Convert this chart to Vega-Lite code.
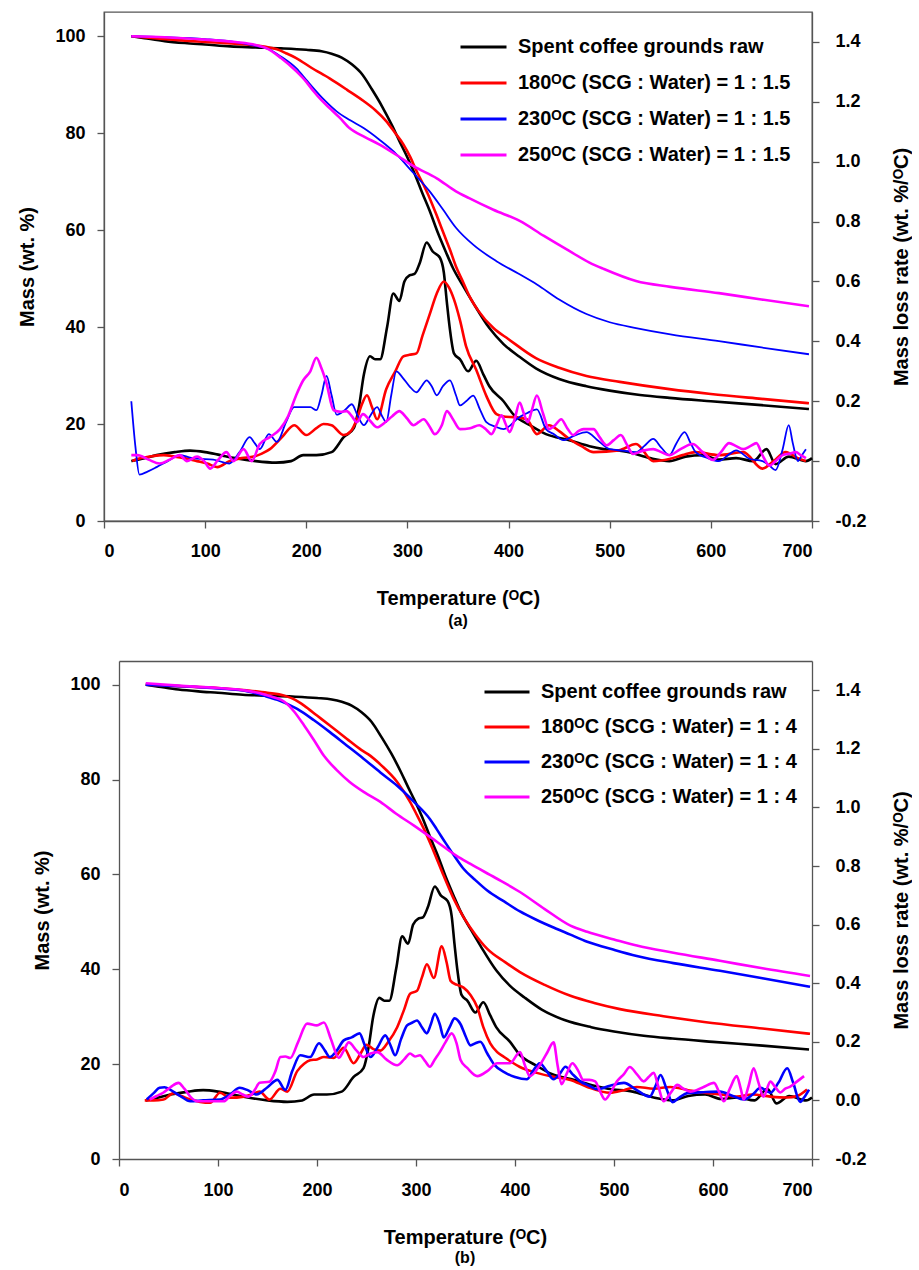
{
"$schema":"https://vega.github.io/schema/vega-lite/v6.json",
"background":"white",
"padding":{"top":11,"left":17,"right":0,"bottom":0},
"autosize":{"type":"pad"},
"spacing":31,
"columns":1,
"config":{
 "font":"Liberation Sans",
 "view":{"stroke":"#555555","strokeWidth":1.3},
 "axis":{"grid":false,"labelFont":"Liberation Sans","labelFontWeight":"bold","labelFontSize":18,"labelColor":"#000000","titleFont":"Liberation Sans","titleFontWeight":"bold","titleFontSize":20,"titleColor":"#000000","domainColor":"#555555","domainWidth":1.3,"tickColor":"#555555","tickWidth":1.3,"tickSize":7},
 "title":{"font":"Liberation Sans","fontWeight":"bold","fontSize":16,"color":"#000000"},
 "legend":{"labelFont":"Liberation Sans"}
},
"datasets":{
"raw":[
{"s":"raw","k":"m","T":27,"v":100},{"s":"raw","k":"m","T":40,"v":99.6},{"s":"raw","k":"m","T":60,"v":99},{"s":"raw","k":"m","T":80,"v":98.6},{"s":"raw","k":"m","T":100,"v":98.3},{"s":"raw","k":"m","T":125,"v":97.9},{"s":"raw","k":"m","T":150,"v":97.7},{"s":"raw","k":"m","T":175,"v":97.5},{"s":"raw","k":"m","T":200,"v":97.2},{"s":"raw","k":"m","T":215,"v":96.9},{"s":"raw","k":"m","T":225,"v":96.4},{"s":"raw","k":"m","T":235,"v":95.6},{"s":"raw","k":"m","T":245,"v":94.2},{"s":"raw","k":"m","T":255,"v":92.2},{"s":"raw","k":"m","T":265,"v":89},{"s":"raw","k":"m","T":275,"v":85.5},{"s":"raw","k":"m","T":285,"v":81.5},{"s":"raw","k":"m","T":292,"v":78.4},{"s":"raw","k":"m","T":300,"v":75},{"s":"raw","k":"m","T":306,"v":72.2},{"s":"raw","k":"m","T":315,"v":67.5},{"s":"raw","k":"m","T":322,"v":64},{"s":"raw","k":"m","T":330,"v":59.5},{"s":"raw","k":"m","T":338,"v":55.5},{"s":"raw","k":"m","T":345,"v":52.2},{"s":"raw","k":"m","T":355,"v":48.5},{"s":"raw","k":"m","T":365,"v":45},{"s":"raw","k":"m","T":381,"v":39.8},{"s":"raw","k":"m","T":395,"v":36.5},{"s":"raw","k":"m","T":410,"v":34},{"s":"raw","k":"m","T":427,"v":31.5},{"s":"raw","k":"m","T":450,"v":29.3},{"s":"raw","k":"m","T":477,"v":27.8},{"s":"raw","k":"m","T":500,"v":26.9},{"s":"raw","k":"m","T":530,"v":26},{"s":"raw","k":"m","T":559,"v":25.4},{"s":"raw","k":"m","T":600,"v":24.7},{"s":"raw","k":"m","T":650,"v":23.9},{"s":"raw","k":"m","T":697,"v":23.1},
{"s":"raw","k":"d","T":27,"v":0},{"s":"raw","k":"d","T":40,"v":0.01},{"s":"raw","k":"d","T":52,"v":0.02},{"s":"raw","k":"d","T":70,"v":0.03},{"s":"raw","k":"d","T":85,"v":0.035},{"s":"raw","k":"d","T":100,"v":0.03},{"s":"raw","k":"d","T":115,"v":0.02},{"s":"raw","k":"d","T":130,"v":0.01},{"s":"raw","k":"d","T":150,"v":0},{"s":"raw","k":"d","T":170,"v":-0.005},{"s":"raw","k":"d","T":185,"v":0},{"s":"raw","k":"d","T":197,"v":0.02},{"s":"raw","k":"d","T":210,"v":0.02},{"s":"raw","k":"d","T":225,"v":0.03},{"s":"raw","k":"d","T":237,"v":0.08},{"s":"raw","k":"d","T":247,"v":0.11},{"s":"raw","k":"d","T":252,"v":0.18},{"s":"raw","k":"d","T":257,"v":0.29},{"s":"raw","k":"d","T":263,"v":0.35},{"s":"raw","k":"d","T":268,"v":0.34},{"s":"raw","k":"d","T":273,"v":0.34},{"s":"raw","k":"d","T":280,"v":0.45},{"s":"raw","k":"d","T":286,"v":0.56},{"s":"raw","k":"d","T":292,"v":0.535},{"s":"raw","k":"d","T":297,"v":0.6},{"s":"raw","k":"d","T":302,"v":0.62},{"s":"raw","k":"d","T":307,"v":0.625},{"s":"raw","k":"d","T":312,"v":0.66},{"s":"raw","k":"d","T":319,"v":0.73},{"s":"raw","k":"d","T":325,"v":0.7},{"s":"raw","k":"d","T":332,"v":0.68},{"s":"raw","k":"d","T":336,"v":0.63},{"s":"raw","k":"d","T":339,"v":0.53},{"s":"raw","k":"d","T":342,"v":0.44},{"s":"raw","k":"d","T":346,"v":0.36},{"s":"raw","k":"d","T":352,"v":0.34},{"s":"raw","k":"d","T":360,"v":0.3},{"s":"raw","k":"d","T":368,"v":0.335},{"s":"raw","k":"d","T":375,"v":0.29},{"s":"raw","k":"d","T":381,"v":0.25},{"s":"raw","k":"d","T":395,"v":0.2},{"s":"raw","k":"d","T":405,"v":0.155},{"s":"raw","k":"d","T":421,"v":0.12},{"s":"raw","k":"d","T":437,"v":0.09},{"s":"raw","k":"d","T":460,"v":0.07},{"s":"raw","k":"d","T":480,"v":0.05},{"s":"raw","k":"d","T":494,"v":0.04},{"s":"raw","k":"d","T":519,"v":0.03},{"s":"raw","k":"d","T":540,"v":0.01},{"s":"raw","k":"d","T":559,"v":0},{"s":"raw","k":"d","T":575,"v":0.015},{"s":"raw","k":"d","T":592,"v":0.02},{"s":"raw","k":"d","T":608,"v":0.005},{"s":"raw","k":"d","T":625,"v":0.01},{"s":"raw","k":"d","T":642,"v":0},{"s":"raw","k":"d","T":655,"v":0.04},{"s":"raw","k":"d","T":664,"v":-0.01},{"s":"raw","k":"d","T":677,"v":0.015},{"s":"raw","k":"d","T":694,"v":0},{"s":"raw","k":"d","T":700,"v":0.01}
],
"a":[
{"s":"180","k":"m","T":27,"v":100},{"s":"180","k":"m","T":50,"v":99.6},{"s":"180","k":"m","T":80,"v":99.1},{"s":"180","k":"m","T":110,"v":98.7},{"s":"180","k":"m","T":140,"v":98.3},{"s":"180","k":"m","T":160,"v":97.8},{"s":"180","k":"m","T":171,"v":97.3},{"s":"180","k":"m","T":180,"v":96.5},{"s":"180","k":"m","T":190,"v":95.5},{"s":"180","k":"m","T":205,"v":93.5},{"s":"180","k":"m","T":223,"v":91.3},{"s":"180","k":"m","T":240,"v":89},{"s":"180","k":"m","T":257,"v":86.6},{"s":"180","k":"m","T":268,"v":84.8},{"s":"180","k":"m","T":279,"v":82.5},{"s":"180","k":"m","T":288,"v":80},{"s":"180","k":"m","T":296,"v":77.7},{"s":"180","k":"m","T":303,"v":75},{"s":"180","k":"m","T":309,"v":72.2},{"s":"180","k":"m","T":316,"v":69.3},{"s":"180","k":"m","T":322,"v":66.6},{"s":"180","k":"m","T":329,"v":63},{"s":"180","k":"m","T":336,"v":59.2},{"s":"180","k":"m","T":342,"v":56},{"s":"180","k":"m","T":348,"v":52.5},{"s":"180","k":"m","T":355,"v":49.3},{"s":"180","k":"m","T":361,"v":46.5},{"s":"180","k":"m","T":370,"v":43.4},{"s":"180","k":"m","T":385,"v":39.8},{"s":"180","k":"m","T":400,"v":37.5},{"s":"180","k":"m","T":427,"v":33.6},{"s":"180","k":"m","T":450,"v":31.6},{"s":"180","k":"m","T":477,"v":29.9},{"s":"180","k":"m","T":510,"v":28.7},{"s":"180","k":"m","T":559,"v":27.2},{"s":"180","k":"m","T":600,"v":26.2},{"s":"180","k":"m","T":650,"v":25.2},{"s":"180","k":"m","T":697,"v":24.3},
{"s":"230","k":"m","T":27,"v":100},{"s":"230","k":"m","T":60,"v":99.8},{"s":"230","k":"m","T":100,"v":99.4},{"s":"230","k":"m","T":130,"v":98.8},{"s":"230","k":"m","T":150,"v":98},{"s":"230","k":"m","T":161,"v":97.5},{"s":"230","k":"m","T":175,"v":95.8},{"s":"230","k":"m","T":190,"v":93.4},{"s":"230","k":"m","T":200,"v":91},{"s":"230","k":"m","T":207,"v":89.3},{"s":"230","k":"m","T":218,"v":86.8},{"s":"230","k":"m","T":230,"v":84.5},{"s":"230","k":"m","T":243,"v":82.7},{"s":"230","k":"m","T":257,"v":81},{"s":"230","k":"m","T":272,"v":78.7},{"s":"230","k":"m","T":289,"v":75.7},{"s":"230","k":"m","T":305,"v":72},{"s":"230","k":"m","T":322,"v":68},{"s":"230","k":"m","T":335,"v":64.3},{"s":"230","k":"m","T":348,"v":60.5},{"s":"230","k":"m","T":365,"v":57},{"s":"230","k":"m","T":388,"v":53.6},{"s":"230","k":"m","T":410,"v":51},{"s":"230","k":"m","T":428,"v":48.8},{"s":"230","k":"m","T":450,"v":45.7},{"s":"230","k":"m","T":477,"v":42.7},{"s":"230","k":"m","T":500,"v":41},{"s":"230","k":"m","T":526,"v":39.8},{"s":"230","k":"m","T":560,"v":38.5},{"s":"230","k":"m","T":608,"v":37.1},{"s":"230","k":"m","T":650,"v":35.8},{"s":"230","k":"m","T":697,"v":34.4},
{"s":"250","k":"m","T":27,"v":100},{"s":"250","k":"m","T":60,"v":99.8},{"s":"250","k":"m","T":100,"v":99.3},{"s":"250","k":"m","T":130,"v":98.8},{"s":"250","k":"m","T":150,"v":98.2},{"s":"250","k":"m","T":161,"v":97.5},{"s":"250","k":"m","T":175,"v":95.5},{"s":"250","k":"m","T":190,"v":92.8},{"s":"250","k":"m","T":200,"v":90.6},{"s":"250","k":"m","T":207,"v":88.7},{"s":"250","k":"m","T":215,"v":86.8},{"s":"250","k":"m","T":223,"v":85.2},{"s":"250","k":"m","T":233,"v":83.2},{"s":"250","k":"m","T":243,"v":81},{"s":"250","k":"m","T":258,"v":79.2},{"s":"250","k":"m","T":272,"v":77.7},{"s":"250","k":"m","T":290,"v":75.4},{"s":"250","k":"m","T":306,"v":73.2},{"s":"250","k":"m","T":329,"v":70.7},{"s":"250","k":"m","T":348,"v":68},{"s":"250","k":"m","T":361,"v":66.6},{"s":"250","k":"m","T":385,"v":64.2},{"s":"250","k":"m","T":411,"v":61.9},{"s":"250","k":"m","T":435,"v":58.8},{"s":"250","k":"m","T":460,"v":55.7},{"s":"250","k":"m","T":480,"v":53.3},{"s":"250","k":"m","T":494,"v":52},{"s":"250","k":"m","T":526,"v":49.5},{"s":"250","k":"m","T":560,"v":48.3},{"s":"250","k":"m","T":608,"v":47},{"s":"250","k":"m","T":650,"v":45.7},{"s":"250","k":"m","T":697,"v":44.3},
{"s":"180","k":"d","T":28,"v":0},{"s":"180","k":"d","T":33,"v":0.007},{"s":"180","k":"d","T":45,"v":0.015},{"s":"180","k":"d","T":59,"v":0.02},{"s":"180","k":"d","T":70,"v":0.015},{"s":"180","k":"d","T":79,"v":0.01},{"s":"180","k":"d","T":92,"v":0},{"s":"180","k":"d","T":102,"v":-0.008},{"s":"180","k":"d","T":112,"v":-0.02},{"s":"180","k":"d","T":124,"v":0},{"s":"180","k":"d","T":136,"v":0.01},{"s":"180","k":"d","T":148,"v":0.015},{"s":"180","k":"d","T":156,"v":0.025},{"s":"180","k":"d","T":164,"v":0.04},{"s":"180","k":"d","T":176,"v":0.08},{"s":"180","k":"d","T":188,"v":0.12},{"s":"180","k":"d","T":200,"v":0.087},{"s":"180","k":"d","T":210,"v":0.11},{"s":"180","k":"d","T":217,"v":0.124},{"s":"180","k":"d","T":225,"v":0.12},{"s":"180","k":"d","T":237,"v":0.087},{"s":"180","k":"d","T":244,"v":0.1},{"s":"180","k":"d","T":250,"v":0.14},{"s":"180","k":"d","T":255,"v":0.19},{"s":"180","k":"d","T":260,"v":0.22},{"s":"180","k":"d","T":265,"v":0.18},{"s":"180","k":"d","T":270,"v":0.14},{"s":"180","k":"d","T":279,"v":0.24},{"s":"180","k":"d","T":288,"v":0.3},{"s":"180","k":"d","T":296,"v":0.35},{"s":"180","k":"d","T":302,"v":0.355},{"s":"180","k":"d","T":309,"v":0.36},{"s":"180","k":"d","T":315,"v":0.42},{"s":"180","k":"d","T":322,"v":0.49},{"s":"180","k":"d","T":329,"v":0.56},{"s":"180","k":"d","T":336,"v":0.6},{"s":"180","k":"d","T":341,"v":0.58},{"s":"180","k":"d","T":346,"v":0.54},{"s":"180","k":"d","T":352,"v":0.47},{"s":"180","k":"d","T":358,"v":0.383},{"s":"180","k":"d","T":368,"v":0.305},{"s":"180","k":"d","T":378,"v":0.218},{"s":"180","k":"d","T":388,"v":0.157},{"s":"180","k":"d","T":397,"v":0.148},{"s":"180","k":"d","T":405,"v":0.147},{"s":"180","k":"d","T":418,"v":0.14},{"s":"180","k":"d","T":428,"v":0.09},{"s":"180","k":"d","T":440,"v":0.12},{"s":"180","k":"d","T":450,"v":0.1},{"s":"180","k":"d","T":460,"v":0.074},{"s":"180","k":"d","T":472,"v":0.05},{"s":"180","k":"d","T":484,"v":0.03},{"s":"180","k":"d","T":509,"v":0.036},{"s":"180","k":"d","T":526,"v":0.057},{"s":"180","k":"d","T":543,"v":0},{"s":"180","k":"d","T":559,"v":0.007},{"s":"180","k":"d","T":572,"v":0.02},{"s":"180","k":"d","T":585,"v":0.03},{"s":"180","k":"d","T":608,"v":0.02},{"s":"180","k":"d","T":632,"v":0.03},{"s":"180","k":"d","T":651,"v":-0.025},{"s":"180","k":"d","T":662,"v":0},{"s":"180","k":"d","T":674,"v":0.03},{"s":"180","k":"d","T":686,"v":0.01},{"s":"180","k":"d","T":694,"v":0},
{"s":"230","k":"d","T":27,"v":0.2},{"s":"230","k":"d","T":31,"v":0.05},{"s":"230","k":"d","T":35,"v":-0.045},{"s":"230","k":"d","T":43,"v":-0.035},{"s":"230","k":"d","T":52,"v":-0.02},{"s":"230","k":"d","T":63,"v":0},{"s":"230","k":"d","T":75,"v":0.02},{"s":"230","k":"d","T":85,"v":0.012},{"s":"230","k":"d","T":92,"v":0.008},{"s":"230","k":"d","T":108,"v":0.005},{"s":"230","k":"d","T":124,"v":-0.008},{"s":"230","k":"d","T":134,"v":0.03},{"s":"230","k":"d","T":144,"v":0.08},{"s":"230","k":"d","T":149,"v":0.06},{"s":"230","k":"d","T":154,"v":0.04},{"s":"230","k":"d","T":163,"v":0.09},{"s":"230","k":"d","T":171,"v":0.064},{"s":"230","k":"d","T":180,"v":0.13},{"s":"230","k":"d","T":188,"v":0.18},{"s":"230","k":"d","T":196,"v":0.18},{"s":"230","k":"d","T":204,"v":0.18},{"s":"230","k":"d","T":210,"v":0.17},{"s":"230","k":"d","T":215,"v":0.22},{"s":"230","k":"d","T":220,"v":0.285},{"s":"230","k":"d","T":225,"v":0.22},{"s":"230","k":"d","T":230,"v":0.155},{"s":"230","k":"d","T":238,"v":0.17},{"s":"230","k":"d","T":245,"v":0.19},{"s":"230","k":"d","T":251,"v":0.15},{"s":"230","k":"d","T":257,"v":0.12},{"s":"230","k":"d","T":263,"v":0.15},{"s":"230","k":"d","T":270,"v":0.18},{"s":"230","k":"d","T":275,"v":0.15},{"s":"230","k":"d","T":279,"v":0.13},{"s":"230","k":"d","T":284,"v":0.22},{"s":"230","k":"d","T":289,"v":0.3},{"s":"230","k":"d","T":295,"v":0.28},{"s":"230","k":"d","T":302,"v":0.25},{"s":"230","k":"d","T":309,"v":0.23},{"s":"230","k":"d","T":314,"v":0.25},{"s":"230","k":"d","T":319,"v":0.27},{"s":"230","k":"d","T":324,"v":0.25},{"s":"230","k":"d","T":329,"v":0.22},{"s":"230","k":"d","T":335,"v":0.25},{"s":"230","k":"d","T":342,"v":0.27},{"s":"230","k":"d","T":348,"v":0.22},{"s":"230","k":"d","T":352,"v":0.186},{"s":"230","k":"d","T":358,"v":0.2},{"s":"230","k":"d","T":365,"v":0.219},{"s":"230","k":"d","T":372,"v":0.17},{"s":"230","k":"d","T":378,"v":0.13},{"s":"230","k":"d","T":387,"v":0.115},{"s":"230","k":"d","T":395,"v":0.107},{"s":"230","k":"d","T":402,"v":0.12},{"s":"230","k":"d","T":408,"v":0.14},{"s":"230","k":"d","T":418,"v":0.16},{"s":"230","k":"d","T":428,"v":0.173},{"s":"230","k":"d","T":437,"v":0.107},{"s":"230","k":"d","T":445,"v":0.09},{"s":"230","k":"d","T":454,"v":0.07},{"s":"230","k":"d","T":465,"v":0.085},{"s":"230","k":"d","T":477,"v":0.097},{"s":"230","k":"d","T":488,"v":0.07},{"s":"230","k":"d","T":500,"v":0.04},{"s":"230","k":"d","T":513,"v":0.035},{"s":"230","k":"d","T":526,"v":0.03},{"s":"230","k":"d","T":534,"v":0.05},{"s":"230","k":"d","T":543,"v":0.074},{"s":"230","k":"d","T":551,"v":0.045},{"s":"230","k":"d","T":559,"v":0.02},{"s":"230","k":"d","T":566,"v":0.06},{"s":"230","k":"d","T":574,"v":0.097},{"s":"230","k":"d","T":580,"v":0.06},{"s":"230","k":"d","T":585,"v":0.03},{"s":"230","k":"d","T":597,"v":0.01},{"s":"230","k":"d","T":608,"v":0},{"s":"230","k":"d","T":617,"v":0.02},{"s":"230","k":"d","T":625,"v":0.036},{"s":"230","k":"d","T":638,"v":0.008},{"s":"230","k":"d","T":651,"v":0},{"s":"230","k":"d","T":658,"v":-0.015},{"s":"230","k":"d","T":664,"v":-0.03},{"s":"230","k":"d","T":671,"v":0.04},{"s":"230","k":"d","T":677,"v":0.12},{"s":"230","k":"d","T":681,"v":0.06},{"s":"230","k":"d","T":686,"v":0},{"s":"230","k":"d","T":690,"v":0.02},{"s":"230","k":"d","T":694,"v":0.04},
{"s":"250","k":"d","T":27,"v":0.02},{"s":"250","k":"d","T":33,"v":0.02},{"s":"250","k":"d","T":44,"v":0.005},{"s":"250","k":"d","T":55,"v":-0.008},{"s":"250","k":"d","T":65,"v":0.005},{"s":"250","k":"d","T":75,"v":0.02},{"s":"250","k":"d","T":82,"v":0},{"s":"250","k":"d","T":92,"v":0.015},{"s":"250","k":"d","T":99,"v":0},{"s":"250","k":"d","T":105,"v":-0.025},{"s":"250","k":"d","T":113,"v":0.005},{"s":"250","k":"d","T":121,"v":0.03},{"s":"250","k":"d","T":128,"v":0},{"s":"250","k":"d","T":138,"v":0.04},{"s":"250","k":"d","T":146,"v":0},{"s":"250","k":"d","T":154,"v":0.057},{"s":"250","k":"d","T":164,"v":0.08},{"s":"250","k":"d","T":174,"v":0.107},{"s":"250","k":"d","T":182,"v":0.15},{"s":"250","k":"d","T":190,"v":0.22},{"s":"250","k":"d","T":197,"v":0.27},{"s":"250","k":"d","T":204,"v":0.3},{"s":"250","k":"d","T":210,"v":0.345},{"s":"250","k":"d","T":215,"v":0.31},{"s":"250","k":"d","T":220,"v":0.26},{"s":"250","k":"d","T":227,"v":0.17},{"s":"250","k":"d","T":234,"v":0.165},{"s":"250","k":"d","T":240,"v":0.167},{"s":"250","k":"d","T":245,"v":0.15},{"s":"250","k":"d","T":250,"v":0.13},{"s":"250","k":"d","T":256,"v":0.157},{"s":"250","k":"d","T":263,"v":0.135},{"s":"250","k":"d","T":270,"v":0.113},{"s":"250","k":"d","T":278,"v":0.13},{"s":"250","k":"d","T":285,"v":0.15},{"s":"250","k":"d","T":292,"v":0.167},{"s":"250","k":"d","T":299,"v":0.145},{"s":"250","k":"d","T":306,"v":0.12},{"s":"250","k":"d","T":311,"v":0.13},{"s":"250","k":"d","T":316,"v":0.14},{"s":"250","k":"d","T":322,"v":0.115},{"s":"250","k":"d","T":327,"v":0.09},{"s":"250","k":"d","T":334,"v":0.12},{"s":"250","k":"d","T":339,"v":0.167},{"s":"250","k":"d","T":345,"v":0.14},{"s":"250","k":"d","T":352,"v":0.107},{"s":"250","k":"d","T":362,"v":0.11},{"s":"250","k":"d","T":371,"v":0.12},{"s":"250","k":"d","T":378,"v":0.105},{"s":"250","k":"d","T":383,"v":0.09},{"s":"250","k":"d","T":388,"v":0.12},{"s":"250","k":"d","T":393,"v":0.153},{"s":"250","k":"d","T":397,"v":0.125},{"s":"250","k":"d","T":401,"v":0.097},{"s":"250","k":"d","T":406,"v":0.14},{"s":"250","k":"d","T":411,"v":0.196},{"s":"250","k":"d","T":415,"v":0.16},{"s":"250","k":"d","T":419,"v":0.13},{"s":"250","k":"d","T":423,"v":0.17},{"s":"250","k":"d","T":428,"v":0.219},{"s":"250","k":"d","T":434,"v":0.16},{"s":"250","k":"d","T":440,"v":0.107},{"s":"250","k":"d","T":446,"v":0.12},{"s":"250","k":"d","T":452,"v":0.14},{"s":"250","k":"d","T":458,"v":0.11},{"s":"250","k":"d","T":464,"v":0.087},{"s":"250","k":"d","T":469,"v":0.1},{"s":"250","k":"d","T":474,"v":0.107},{"s":"250","k":"d","T":484,"v":0.107},{"s":"250","k":"d","T":490,"v":0.08},{"s":"250","k":"d","T":497,"v":0.053},{"s":"250","k":"d","T":504,"v":0.07},{"s":"250","k":"d","T":511,"v":0.087},{"s":"250","k":"d","T":517,"v":0.055},{"s":"250","k":"d","T":523,"v":0.024},{"s":"250","k":"d","T":533,"v":0.035},{"s":"250","k":"d","T":543,"v":0.04},{"s":"250","k":"d","T":551,"v":0.03},{"s":"250","k":"d","T":559,"v":0.02},{"s":"250","k":"d","T":570,"v":0.04},{"s":"250","k":"d","T":582,"v":0.057},{"s":"250","k":"d","T":592,"v":0.03},{"s":"250","k":"d","T":602,"v":0.004},{"s":"250","k":"d","T":610,"v":0.03},{"s":"250","k":"d","T":618,"v":0.06},{"s":"250","k":"d","T":625,"v":0.05},{"s":"250","k":"d","T":632,"v":0.04},{"s":"250","k":"d","T":639,"v":0.05},{"s":"250","k":"d","T":645,"v":0.06},{"s":"250","k":"d","T":651,"v":0.02},{"s":"250","k":"d","T":658,"v":-0.015},{"s":"250","k":"d","T":664,"v":0},{"s":"250","k":"d","T":671,"v":0.02},{"s":"250","k":"d","T":678,"v":0.025},{"s":"250","k":"d","T":684,"v":0.03},{"s":"250","k":"d","T":689,"v":0.02},{"s":"250","k":"d","T":694,"v":0.01}
],
"b":[
{"s":"180","k":"m","T":27,"v":100},{"s":"180","k":"m","T":60,"v":99.7},{"s":"180","k":"m","T":100,"v":99.3},{"s":"180","k":"m","T":129,"v":98.8},{"s":"180","k":"m","T":150,"v":98.3},{"s":"180","k":"m","T":167,"v":97.7},{"s":"180","k":"m","T":178,"v":96.8},{"s":"180","k":"m","T":187,"v":95.6},{"s":"180","k":"m","T":200,"v":93.5},{"s":"180","k":"m","T":213,"v":91.4},{"s":"180","k":"m","T":230,"v":88.6},{"s":"180","k":"m","T":245,"v":86.2},{"s":"180","k":"m","T":254,"v":85},{"s":"180","k":"m","T":265,"v":83},{"s":"180","k":"m","T":281,"v":79.5},{"s":"180","k":"m","T":294,"v":75.3},{"s":"180","k":"m","T":301,"v":72.5},{"s":"180","k":"m","T":308,"v":69.6},{"s":"180","k":"m","T":318,"v":64.8},{"s":"180","k":"m","T":328,"v":59.7},{"s":"180","k":"m","T":338,"v":54.9},{"s":"180","k":"m","T":348,"v":51},{"s":"180","k":"m","T":360,"v":47.3},{"s":"180","k":"m","T":372,"v":44.3},{"s":"180","k":"m","T":390,"v":41.5},{"s":"180","k":"m","T":405,"v":39.4},{"s":"180","k":"m","T":430,"v":36.7},{"s":"180","k":"m","T":456,"v":34.4},{"s":"180","k":"m","T":480,"v":32.9},{"s":"180","k":"m","T":506,"v":31.6},{"s":"180","k":"m","T":550,"v":30.1},{"s":"180","k":"m","T":591,"v":28.9},{"s":"180","k":"m","T":650,"v":27.5},{"s":"180","k":"m","T":698,"v":26.4},
{"s":"230","k":"m","T":27,"v":100},{"s":"230","k":"m","T":60,"v":99.7},{"s":"230","k":"m","T":100,"v":99.2},{"s":"230","k":"m","T":130,"v":98.6},{"s":"230","k":"m","T":146,"v":97.7},{"s":"230","k":"m","T":160,"v":96.8},{"s":"230","k":"m","T":180,"v":94.9},{"s":"230","k":"m","T":197,"v":92.5},{"s":"230","k":"m","T":213,"v":90},{"s":"230","k":"m","T":230,"v":87.2},{"s":"230","k":"m","T":247,"v":84.4},{"s":"230","k":"m","T":264,"v":81.5},{"s":"230","k":"m","T":281,"v":78.7},{"s":"230","k":"m","T":298,"v":75.3},{"s":"230","k":"m","T":314,"v":71.7},{"s":"230","k":"m","T":321,"v":69.5},{"s":"230","k":"m","T":330,"v":66.6},{"s":"230","k":"m","T":341,"v":63.2},{"s":"230","k":"m","T":348,"v":61.2},{"s":"230","k":"m","T":360,"v":58.8},{"s":"230","k":"m","T":372,"v":56.6},{"s":"230","k":"m","T":389,"v":54.3},{"s":"230","k":"m","T":405,"v":52.2},{"s":"230","k":"m","T":422,"v":50.4},{"s":"230","k":"m","T":439,"v":48.8},{"s":"230","k":"m","T":456,"v":47.3},{"s":"230","k":"m","T":473,"v":45.8},{"s":"230","k":"m","T":500,"v":44.1},{"s":"230","k":"m","T":523,"v":42.8},{"s":"230","k":"m","T":560,"v":41.3},{"s":"230","k":"m","T":607,"v":39.7},{"s":"230","k":"m","T":650,"v":38.1},{"s":"230","k":"m","T":698,"v":36.3},
{"s":"250","k":"m","T":27,"v":100.3},{"s":"250","k":"m","T":60,"v":99.8},{"s":"250","k":"m","T":100,"v":99.3},{"s":"250","k":"m","T":130,"v":98.7},{"s":"250","k":"m","T":146,"v":98},{"s":"250","k":"m","T":157,"v":97.3},{"s":"250","k":"m","T":167,"v":96.4},{"s":"250","k":"m","T":177,"v":94.3},{"s":"250","k":"m","T":187,"v":91.4},{"s":"250","k":"m","T":197,"v":88.3},{"s":"250","k":"m","T":207,"v":85},{"s":"250","k":"m","T":220,"v":82},{"s":"250","k":"m","T":233,"v":79.5},{"s":"250","k":"m","T":248,"v":77.3},{"s":"250","k":"m","T":264,"v":75.3},{"s":"250","k":"m","T":280,"v":72.8},{"s":"250","k":"m","T":298,"v":70.3},{"s":"250","k":"m","T":321,"v":66.9},{"s":"250","k":"m","T":341,"v":63.9},{"s":"250","k":"m","T":355,"v":62.2},{"s":"250","k":"m","T":380,"v":59.3},{"s":"250","k":"m","T":405,"v":56.3},{"s":"250","k":"m","T":430,"v":52.7},{"s":"250","k":"m","T":456,"v":49.2},{"s":"250","k":"m","T":473,"v":47.9},{"s":"250","k":"m","T":500,"v":46.3},{"s":"250","k":"m","T":523,"v":45},{"s":"250","k":"m","T":560,"v":43.5},{"s":"250","k":"m","T":607,"v":41.8},{"s":"250","k":"m","T":650,"v":40.2},{"s":"250","k":"m","T":698,"v":38.6},
{"s":"180","k":"d","T":26,"v":0},{"s":"180","k":"d","T":35,"v":0},{"s":"180","k":"d","T":45,"v":0.003},{"s":"180","k":"d","T":55,"v":0.025},{"s":"180","k":"d","T":63,"v":0.015},{"s":"180","k":"d","T":72,"v":0.003},{"s":"180","k":"d","T":82,"v":-0.005},{"s":"180","k":"d","T":92,"v":-0.008},{"s":"180","k":"d","T":102,"v":0.026},{"s":"180","k":"d","T":112,"v":0.009},{"s":"180","k":"d","T":126,"v":0.013},{"s":"180","k":"d","T":134,"v":0.02},{"s":"180","k":"d","T":142,"v":0.03},{"s":"180","k":"d","T":152,"v":0.003},{"s":"180","k":"d","T":163,"v":0.04},{"s":"180","k":"d","T":170,"v":0.03},{"s":"180","k":"d","T":180,"v":0.1},{"s":"180","k":"d","T":187,"v":0.125},{"s":"180","k":"d","T":193,"v":0.137},{"s":"180","k":"d","T":200,"v":0.14},{"s":"180","k":"d","T":207,"v":0.148},{"s":"180","k":"d","T":217,"v":0.145},{"s":"180","k":"d","T":227,"v":0.18},{"s":"180","k":"d","T":237,"v":0.127},{"s":"180","k":"d","T":244,"v":0.16},{"s":"180","k":"d","T":250,"v":0.19},{"s":"180","k":"d","T":257,"v":0.175},{"s":"180","k":"d","T":264,"v":0.17},{"s":"180","k":"d","T":272,"v":0.2},{"s":"180","k":"d","T":281,"v":0.25},{"s":"180","k":"d","T":288,"v":0.31},{"s":"180","k":"d","T":294,"v":0.364},{"s":"180","k":"d","T":301,"v":0.374},{"s":"180","k":"d","T":306,"v":0.42},{"s":"180","k":"d","T":311,"v":0.465},{"s":"180","k":"d","T":318,"v":0.418},{"s":"180","k":"d","T":326,"v":0.526},{"s":"180","k":"d","T":331,"v":0.47},{"s":"180","k":"d","T":335,"v":0.408},{"s":"180","k":"d","T":341,"v":0.395},{"s":"180","k":"d","T":348,"v":0.385},{"s":"180","k":"d","T":355,"v":0.36},{"s":"180","k":"d","T":362,"v":0.317},{"s":"180","k":"d","T":368,"v":0.25},{"s":"180","k":"d","T":375,"v":0.195},{"s":"180","k":"d","T":382,"v":0.165},{"s":"180","k":"d","T":389,"v":0.148},{"s":"180","k":"d","T":397,"v":0.13},{"s":"180","k":"d","T":405,"v":0.114},{"s":"180","k":"d","T":422,"v":0.094},{"s":"180","k":"d","T":440,"v":0.08},{"s":"180","k":"d","T":456,"v":0.07},{"s":"180","k":"d","T":473,"v":0.046},{"s":"180","k":"d","T":496,"v":0.026},{"s":"180","k":"d","T":510,"v":0.035},{"s":"180","k":"d","T":523,"v":0.046},{"s":"180","k":"d","T":540,"v":0.04},{"s":"180","k":"d","T":557,"v":0.046},{"s":"180","k":"d","T":575,"v":0.035},{"s":"180","k":"d","T":591,"v":0.026},{"s":"180","k":"d","T":608,"v":0.02},{"s":"180","k":"d","T":624,"v":0.013},{"s":"180","k":"d","T":640,"v":0.02},{"s":"180","k":"d","T":658,"v":0.013},{"s":"180","k":"d","T":675,"v":0.01},{"s":"180","k":"d","T":685,"v":0.015},{"s":"180","k":"d","T":695,"v":0.037},
{"s":"230","k":"d","T":28,"v":0.003},{"s":"230","k":"d","T":35,"v":0.025},{"s":"230","k":"d","T":41,"v":0.043},{"s":"230","k":"d","T":46,"v":0.045},{"s":"230","k":"d","T":52,"v":0.036},{"s":"230","k":"d","T":62,"v":0.015},{"s":"230","k":"d","T":72,"v":-0.003},{"s":"230","k":"d","T":85,"v":0},{"s":"230","k":"d","T":102,"v":0.003},{"s":"230","k":"d","T":112,"v":0.02},{"s":"230","k":"d","T":122,"v":0.043},{"s":"230","k":"d","T":130,"v":0.035},{"s":"230","k":"d","T":139,"v":0.02},{"s":"230","k":"d","T":150,"v":0.045},{"s":"230","k":"d","T":160,"v":0.07},{"s":"230","k":"d","T":168,"v":0.036},{"s":"230","k":"d","T":175,"v":0.1},{"s":"230","k":"d","T":183,"v":0.154},{"s":"230","k":"d","T":193,"v":0.148},{"s":"230","k":"d","T":202,"v":0.195},{"s":"230","k":"d","T":208,"v":0.17},{"s":"230","k":"d","T":213,"v":0.148},{"s":"230","k":"d","T":220,"v":0.17},{"s":"230","k":"d","T":227,"v":0.205},{"s":"230","k":"d","T":235,"v":0.215},{"s":"230","k":"d","T":243,"v":0.229},{"s":"230","k":"d","T":248,"v":0.19},{"s":"230","k":"d","T":254,"v":0.148},{"s":"230","k":"d","T":261,"v":0.18},{"s":"230","k":"d","T":269,"v":0.222},{"s":"230","k":"d","T":274,"v":0.19},{"s":"230","k":"d","T":279,"v":0.154},{"s":"230","k":"d","T":285,"v":0.21},{"s":"230","k":"d","T":291,"v":0.256},{"s":"230","k":"d","T":296,"v":0.265},{"s":"230","k":"d","T":301,"v":0.273},{"s":"230","k":"d","T":306,"v":0.25},{"s":"230","k":"d","T":311,"v":0.229},{"s":"230","k":"d","T":315,"v":0.26},{"s":"230","k":"d","T":319,"v":0.296},{"s":"230","k":"d","T":324,"v":0.26},{"s":"230","k":"d","T":328,"v":0.215},{"s":"230","k":"d","T":334,"v":0.25},{"s":"230","k":"d","T":339,"v":0.28},{"s":"230","k":"d","T":345,"v":0.26},{"s":"230","k":"d","T":350,"v":0.22},{"s":"230","k":"d","T":355,"v":0.188},{"s":"230","k":"d","T":360,"v":0.195},{"s":"230","k":"d","T":365,"v":0.2},{"s":"230","k":"d","T":372,"v":0.16},{"s":"230","k":"d","T":379,"v":0.122},{"s":"230","k":"d","T":390,"v":0.095},{"s":"230","k":"d","T":400,"v":0.08},{"s":"230","k":"d","T":412,"v":0.072},{"s":"230","k":"d","T":418,"v":0.1},{"s":"230","k":"d","T":425,"v":0.127},{"s":"230","k":"d","T":432,"v":0.1},{"s":"230","k":"d","T":439,"v":0.072},{"s":"230","k":"d","T":445,"v":0.09},{"s":"230","k":"d","T":451,"v":0.115},{"s":"230","k":"d","T":458,"v":0.09},{"s":"230","k":"d","T":466,"v":0.065},{"s":"230","k":"d","T":475,"v":0.05},{"s":"230","k":"d","T":483,"v":0.038},{"s":"230","k":"d","T":496,"v":0.05},{"s":"230","k":"d","T":510,"v":0.06},{"s":"230","k":"d","T":523,"v":0.035},{"s":"230","k":"d","T":536,"v":0.013},{"s":"230","k":"d","T":542,"v":0.05},{"s":"230","k":"d","T":547,"v":0.087},{"s":"230","k":"d","T":553,"v":0.04},{"s":"230","k":"d","T":559,"v":-0.006},{"s":"230","k":"d","T":566,"v":0.01},{"s":"230","k":"d","T":574,"v":0.025},{"s":"230","k":"d","T":590,"v":0.028},{"s":"230","k":"d","T":607,"v":0.03},{"s":"230","k":"d","T":620,"v":0.015},{"s":"230","k":"d","T":631,"v":0.003},{"s":"230","k":"d","T":640,"v":0.02},{"s":"230","k":"d","T":648,"v":0.043},{"s":"230","k":"d","T":658,"v":0.026},{"s":"230","k":"d","T":666,"v":0.06},{"s":"230","k":"d","T":675,"v":0.11},{"s":"230","k":"d","T":681,"v":0.06},{"s":"230","k":"d","T":688,"v":-0.005},{"s":"230","k":"d","T":692,"v":0.01},{"s":"230","k":"d","T":697,"v":0.037},
{"s":"250","k":"d","T":31,"v":0.003},{"s":"250","k":"d","T":38,"v":0.015},{"s":"250","k":"d","T":45,"v":0.027},{"s":"250","k":"d","T":52,"v":0.045},{"s":"250","k":"d","T":60,"v":0.06},{"s":"250","k":"d","T":66,"v":0.04},{"s":"250","k":"d","T":72,"v":0.013},{"s":"250","k":"d","T":79,"v":-0.003},{"s":"250","k":"d","T":92,"v":-0.003},{"s":"250","k":"d","T":106,"v":-0.003},{"s":"250","k":"d","T":112,"v":0.015},{"s":"250","k":"d","T":119,"v":0.03},{"s":"250","k":"d","T":125,"v":0.02},{"s":"250","k":"d","T":131,"v":0.013},{"s":"250","k":"d","T":137,"v":0.035},{"s":"250","k":"d","T":142,"v":0.06},{"s":"250","k":"d","T":152,"v":0.064},{"s":"250","k":"d","T":158,"v":0.1},{"s":"250","k":"d","T":163,"v":0.148},{"s":"250","k":"d","T":168,"v":0.15},{"s":"250","k":"d","T":173,"v":0.145},{"s":"250","k":"d","T":181,"v":0.2},{"s":"250","k":"d","T":190,"v":0.262},{"s":"250","k":"d","T":200,"v":0.256},{"s":"250","k":"d","T":207,"v":0.266},{"s":"250","k":"d","T":214,"v":0.21},{"s":"250","k":"d","T":222,"v":0.145},{"s":"250","k":"d","T":227,"v":0.17},{"s":"250","k":"d","T":232,"v":0.198},{"s":"250","k":"d","T":240,"v":0.17},{"s":"250","k":"d","T":247,"v":0.148},{"s":"250","k":"d","T":254,"v":0.16},{"s":"250","k":"d","T":261,"v":0.165},{"s":"250","k":"d","T":270,"v":0.14},{"s":"250","k":"d","T":281,"v":0.12},{"s":"250","k":"d","T":288,"v":0.14},{"s":"250","k":"d","T":294,"v":0.16},{"s":"250","k":"d","T":299,"v":0.15},{"s":"250","k":"d","T":304,"v":0.154},{"s":"250","k":"d","T":309,"v":0.135},{"s":"250","k":"d","T":314,"v":0.115},{"s":"250","k":"d","T":319,"v":0.14},{"s":"250","k":"d","T":324,"v":0.165},{"s":"250","k":"d","T":330,"v":0.2},{"s":"250","k":"d","T":336,"v":0.229},{"s":"250","k":"d","T":341,"v":0.195},{"s":"250","k":"d","T":345,"v":0.138},{"s":"250","k":"d","T":352,"v":0.11},{"s":"250","k":"d","T":362,"v":0.083},{"s":"250","k":"d","T":372,"v":0.1},{"s":"250","k":"d","T":382,"v":0.127},{"s":"250","k":"d","T":395,"v":0.127},{"s":"250","k":"d","T":405,"v":0.165},{"s":"250","k":"d","T":410,"v":0.12},{"s":"250","k":"d","T":415,"v":0.083},{"s":"250","k":"d","T":425,"v":0.12},{"s":"250","k":"d","T":432,"v":0.16},{"s":"250","k":"d","T":439,"v":0.198},{"s":"250","k":"d","T":443,"v":0.12},{"s":"250","k":"d","T":447,"v":0.055},{"s":"250","k":"d","T":452,"v":0.09},{"s":"250","k":"d","T":458,"v":0.127},{"s":"250","k":"d","T":464,"v":0.1},{"s":"250","k":"d","T":469,"v":0.07},{"s":"250","k":"d","T":475,"v":0.07},{"s":"250","k":"d","T":481,"v":0.065},{"s":"250","k":"d","T":486,"v":0.03},{"s":"250","k":"d","T":491,"v":0.003},{"s":"250","k":"d","T":497,"v":0.03},{"s":"250","k":"d","T":503,"v":0.065},{"s":"250","k":"d","T":510,"v":0.09},{"s":"250","k":"d","T":516,"v":0.114},{"s":"250","k":"d","T":523,"v":0.09},{"s":"250","k":"d","T":530,"v":0.065},{"s":"250","k":"d","T":535,"v":0.08},{"s":"250","k":"d","T":540,"v":0.094},{"s":"250","k":"d","T":545,"v":0.045},{"s":"250","k":"d","T":550,"v":-0.003},{"s":"250","k":"d","T":557,"v":0.025},{"s":"250","k":"d","T":564,"v":0.053},{"s":"250","k":"d","T":570,"v":0.04},{"s":"250","k":"d","T":577,"v":0.03},{"s":"250","k":"d","T":590,"v":0.045},{"s":"250","k":"d","T":601,"v":0.06},{"s":"250","k":"d","T":606,"v":0.03},{"s":"250","k":"d","T":611,"v":-0.003},{"s":"250","k":"d","T":617,"v":0.04},{"s":"250","k":"d","T":624,"v":0.083},{"s":"250","k":"d","T":628,"v":0.04},{"s":"250","k":"d","T":631,"v":0.003},{"s":"250","k":"d","T":636,"v":0.05},{"s":"250","k":"d","T":641,"v":0.11},{"s":"250","k":"d","T":646,"v":0.06},{"s":"250","k":"d","T":651,"v":0.013},{"s":"250","k":"d","T":658,"v":0.064},{"s":"250","k":"d","T":663,"v":0.045},{"s":"250","k":"d","T":668,"v":0.027},{"s":"250","k":"d","T":673,"v":0.04},{"s":"250","k":"d","T":678,"v":0.047},{"s":"250","k":"d","T":685,"v":0.065},{"s":"250","k":"d","T":692,"v":0.083}
]
},
"concat":[
{
 "width":708,"height":509,
 "title":{"text":"(a)","orient":"bottom","offset":5},
 "encoding":{
  "x":{"field":"T","type":"quantitative","scale":{"domain":[0,700],"nice":false},"axis":{"title":"Temperature (ᴼC)","values":[0,100,200,300,400,500,600,700],"labelPadding":14,"titlePadding":28}},
  "color":{"field":"s","type":"nominal","scale":{"domain":["raw","180","230","250"],"range":["#000000","#ff0000","#0000ff","#ff00ff"]},
   "legend":{"orient":"none","legendX":355,"legendY":25,"title":null,"padding":0,"symbolType":"stroke","symbolSize":2116,"symbolStrokeWidth":3,"clipHeight":20,"labelFontSize":20,"labelFontWeight":"bold","labelColor":"#000000","labelOffset":10,"rowPadding":16,"labelLimit":500,
    "labelExpr":"datum.label == 'raw' ? 'Spent coffee grounds raw' : datum.label + 'ᴼC (SCG : Water) = 1 : 1.5'"}},
  "strokeWidth":{"condition":{"test":"datum.s == '230'","value":1.8},"value":2.6}
 },
 "layer":[
  {"encoding":{"y":{"field":"v","type":"quantitative","scale":{"domain":[0,105],"nice":false},"axis":{"orient":"left","title":"Mass (wt. %)","values":[0,20,40,60,80,100],"labelPadding":12,"titlePadding":17}}},
   "layer":[
    {"data":{"name":"raw"},"transform":[{"filter":"datum.k == 'm'"}],"mark":{"type":"line","interpolate":"monotone"}},
    {"data":{"name":"a"},"transform":[{"filter":"datum.k == 'm'"}],"mark":{"type":"line","interpolate":"monotone"}}
   ]},
  {"encoding":{"y":{"field":"v","type":"quantitative","scale":{"domain":[-0.2,1.5],"nice":false},"axis":{"orient":"right","title":"Mass loss rate (wt. %/ᴼC)","titleAngle":-90,"titleBaseline":"top","values":[-0.2,0,0.2,0.4,0.6,0.8,1,1.2,1.4],"labelExpr":"datum.value < 0 ? '-' + format(-datum.value, '.1f') : format(datum.value, '.1f')","labelPadding":16,"titlePadding":25}}},
   "layer":[
    {"data":{"name":"raw"},"transform":[{"filter":"datum.k == 'd'"}],"mark":{"type":"line","interpolate":"monotone"}},
    {"data":{"name":"a"},"transform":[{"filter":"datum.k == 'd'"}],"mark":{"type":"line","interpolate":"monotone"}}
   ]}
 ],
 "resolve":{"scale":{"y":"independent"}}
},
{
 "width":708,"height":498,
 "view":{"stroke":null},
 "title":{"text":"(b)","orient":"bottom","offset":3,"dx":7},
 "encoding":{
  "color":{"field":"s","type":"nominal","scale":{"domain":["raw","180","230","250"],"range":["#000000","#ff0000","#0000ff","#ff00ff"]},
   "legend":{"orient":"none","legendX":379,"legendY":21,"title":null,"padding":0,"symbolType":"stroke","symbolSize":2025,"symbolStrokeWidth":3,"clipHeight":20,"labelFontSize":20,"labelFontWeight":"bold","labelColor":"#000000","labelOffset":10,"rowPadding":15,"labelLimit":500,
    "labelExpr":"datum.label == 'raw' ? 'Spent coffee grounds raw' : datum.label + 'ᴼC (SCG : Water) = 1 : 4'"}},
  "strokeWidth":{"value":2.6}
 },
 "layer":[
  {"encoding":{
    "x":{"field":"T","type":"quantitative","scale":{"domain":[0,700],"range":[15,708],"nice":false},"axis":{"orient":"bottom","title":"Temperature (ᴼC)","titleX":361,"values":[0,100,200,300,400,500,600,700],"labelPadding":15,"titlePadding":28}},
    "y":{"field":"v","type":"quantitative","scale":{"domain":[0,105],"nice":false},"axis":{"orient":"left","title":"Mass (wt. %)","offset":-15,"values":[0,20,40,60,80,100],"labelPadding":12,"titlePadding":17}}},
   "layer":[
    {"data":{"name":"raw"},"transform":[{"filter":"datum.k == 'm'"}],"mark":{"type":"line","interpolate":"monotone"}},
    {"data":{"name":"b"},"transform":[{"filter":"datum.k == 'm'"}],"mark":{"type":"line","interpolate":"monotone"}}
   ]},
  {"encoding":{
    "x":{"field":"T","type":"quantitative","scale":{"domain":[0,700],"range":[15,708],"nice":false},"axis":{"orient":"top","labels":false,"ticks":false,"title":null,"domain":true}},
    "y":{"field":"v","type":"quantitative","scale":{"domain":[-0.2,1.5],"nice":false},"axis":{"orient":"right","title":"Mass loss rate (wt. %/ᴼC)","titleAngle":-90,"titleBaseline":"top","values":[-0.2,0,0.2,0.4,0.6,0.8,1,1.2,1.4],"labelExpr":"datum.value < 0 ? '-' + format(-datum.value, '.1f') : format(datum.value, '.1f')","labelPadding":16,"titlePadding":25}}},
   "layer":[
    {"data":{"name":"raw"},"transform":[{"filter":"datum.k == 'd'"}],"mark":{"type":"line","interpolate":"monotone"}},
    {"data":{"name":"b"},"transform":[{"filter":"datum.k == 'd'"}],"mark":{"type":"line","interpolate":"monotone"}}
   ]}
 ],
 "resolve":{"scale":{"y":"independent","x":"independent"}}
}
],
"resolve":{"scale":{"color":"independent","x":"independent"},"legend":{"color":"independent"}}
}
